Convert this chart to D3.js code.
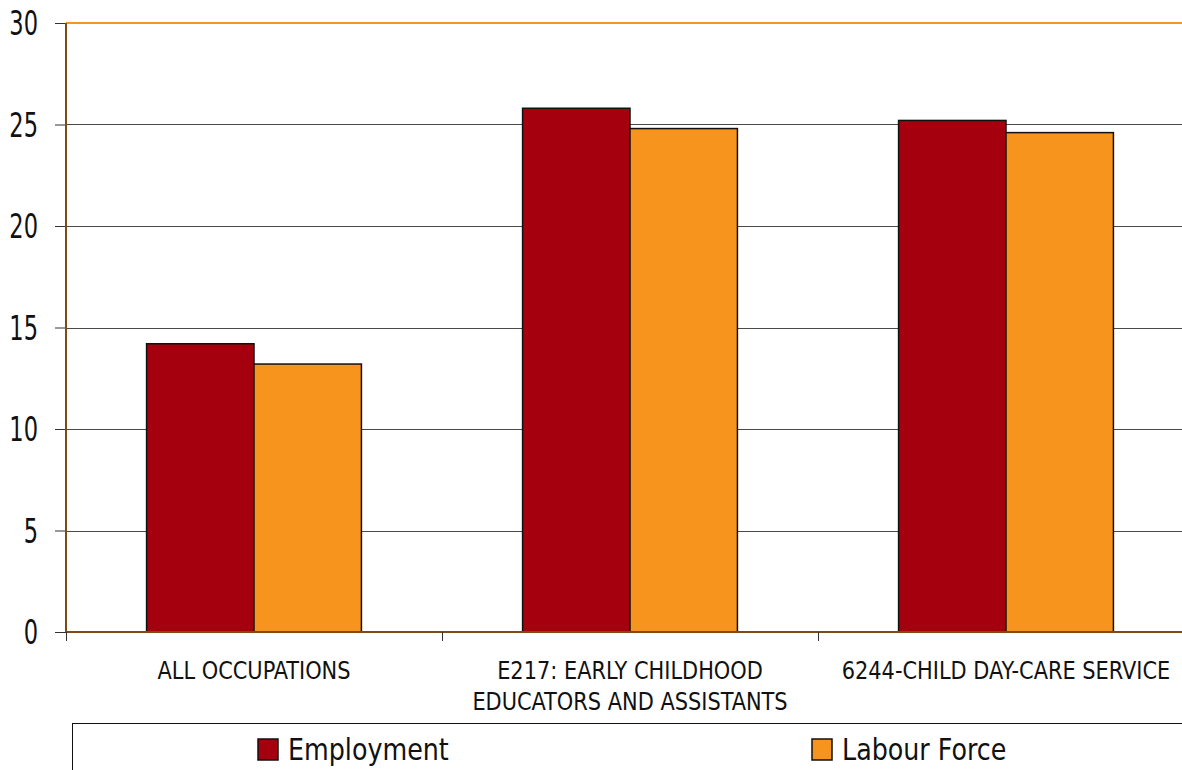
<!DOCTYPE html>
<html>
<head>
<meta charset="utf-8">
<script src="https://cdn.jsdelivr.net/npm/d3@7"></script>
<style>
  html, body { margin: 0; padding: 0; background: #fff; overflow: hidden; }
  svg { display: block; font-family: "Liberation Sans Narrow", "DejaVu Sans Condensed", sans-serif; }
</style>
</head>
<body>
<div id="chart"></div>
<script>
// chart data
const categories = ["ALL OCCUPATIONS", "E217: EARLY CHILDHOOD|EDUCATORS AND ASSISTANTS", "6244-CHILD DAY-CARE SERVICE"];
const seriesNames = ["Employment", "Labour Force"];
const employment = [14.2, 25.8, 25.2];
const labourForce = [13.2, 24.8, 24.6];
const yTicks = [0, 5, 10, 15, 20, 25, 30];
const colors = ["#a5000e", "#f7941e"];

const W = 1182, H = 770;
const plot = { left: 66, right: 1194, top: 23, bottom: 632 };

const svg = d3.select("#chart").append("svg")
	.attr("width", W)
	.attr("height", H);

const x = d3.scaleBand()
	.domain(categories)
	.range([plot.left, plot.right]);

const xInner = d3.scaleBand()
	.domain(seriesNames)
	.range([0, x.bandwidth()])
	.paddingInner(0)
	.paddingOuter(0.75);

const y = d3.scaleLinear()
	.domain([0, 30])
	.range([plot.bottom, plot.top]);

const py = v => Math.round(y(v)) + 0.5;

// gridlines
svg.append("g")
	.selectAll("line")
	.data(yTicks.filter(d => d > 0 && d < 30))
	.join("line")
	.attr("x1", plot.left)
	.attr("x2", plot.right)
	.attr("y1", py)
	.attr("y2", py)
	.attr("stroke", "#4a4a4a")
	.attr("stroke-width", 1);

// top border line
svg.append("line")
	.attr("x1", plot.left).attr("x2", plot.right)
	.attr("y1", y(30)).attr("y2", y(30))
	.attr("stroke", "#f7941e")
	.attr("stroke-width", 2);

// y axis ticks + labels (labels squeezed to mimic a condensed face)
const yAxis = svg.append("g")
	.attr("transform", `translate(${plot.left},0)`)
	.call(d3.axisLeft(y).tickValues(yTicks).tickSize(11).tickFormat(""));
yAxis.select(".domain").remove();
yAxis.selectAll(".tick line").attr("stroke", "#333");

svg.append("g")
	.selectAll("text")
	.data(yTicks)
	.join("text")
	.attr("transform", d => `translate(38,${y(d) + 12}) scale(0.76,1)`)
	.attr("text-anchor", "end")
	.attr("font-size", 33)
	.attr("fill", "#111")
	.text(d => d);

// bars
const data = categories.map((c, i) => ({ cat: c, values: [employment[i], labourForce[i]] }));

const groups = svg.append("g")
	.selectAll("g")
	.data(data)
	.join("g")
	.attr("transform", d => `translate(${x(d.cat)},0)`);

groups.selectAll("rect")
	.data(d => d.values.map((v, j) => ({ name: seriesNames[j], value: v, j })))
	.join("rect")
	.attr("x", d => xInner(d.name))
	.attr("width", xInner.bandwidth())
	.attr("y", d => y(d.value))
	.attr("height", d => y(0) - y(d.value))
	.attr("fill", d => colors[d.j])
	.attr("stroke", "#111")
	.attr("stroke-width", 1.5);

// axis lines (brown)
svg.append("line")
	.attr("x1", plot.left).attr("x2", plot.left)
	.attr("y1", plot.top).attr("y2", plot.bottom)
	.attr("stroke", "#7f4a14")
	.attr("stroke-width", 2);
svg.append("line")
	.attr("x1", plot.left).attr("x2", plot.right)
	.attr("y1", plot.bottom).attr("y2", plot.bottom)
	.attr("stroke", "#7f4a14")
	.attr("stroke-width", 2);

// x category ticks
svg.append("g")
	.selectAll("line")
	.data(categories)
	.join("line")
	.attr("x1", d => Math.round(x(d)) + 0.5)
	.attr("x2", d => Math.round(x(d)) + 0.5)
	.attr("y1", plot.bottom)
	.attr("y2", plot.bottom + 9)
	.attr("stroke", "#333")
	.attr("stroke-width", 1);

// x labels
const labels = svg.append("g")
	.selectAll("g")
	.data(categories)
	.join("g")
	.attr("transform", d => `translate(${x(d) + x.bandwidth() / 2},679) scale(0.93,1)`);
labels.selectAll("text")
	.data(d => d.split("|"))
	.join("text")
	.attr("y", (d, i) => i * 31)
	.attr("text-anchor", "middle")
	.attr("font-size", 25)
	.attr("fill", "#111")
	.text(d => d);

// legend
svg.append("rect")
	.attr("x", 72.5)
	.attr("y", 723.5)
	.attr("width", 1200)
	.attr("height", 100)
	.attr("fill", "#fff")
	.attr("stroke", "#111")
	.attr("stroke-width", 1);

const legendX = [258, 812];
const legend = svg.append("g")
	.selectAll("g")
	.data(seriesNames)
	.join("g")
	.attr("transform", (d, i) => `translate(${legendX[i]},739)`);
legend.append("rect")
	.attr("width", 20)
	.attr("height", 21)
	.attr("fill", (d, i) => colors[i])
	.attr("stroke", "#111")
	.attr("stroke-width", 1.5);
legend.append("text")
	.attr("transform", "translate(30,21) scale(0.94,1)")
	.attr("font-size", 30)
	.attr("fill", "#111")
	.text(d => d);
</script>
</body>
</html>
